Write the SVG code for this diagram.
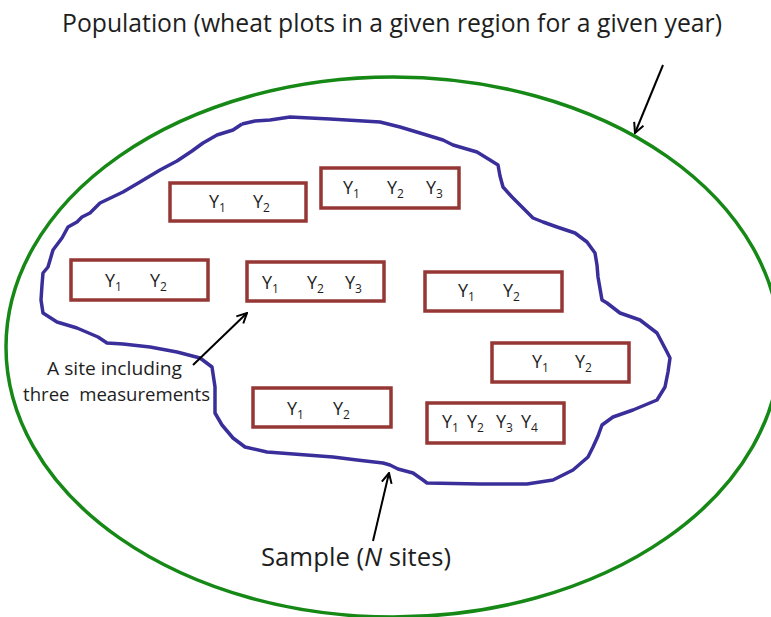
<svg xmlns="http://www.w3.org/2000/svg" width="771" height="617" viewBox="0 0 771 617">
<style>
text{font-family:"Open Sans","Noto Sans","Liberation Sans",sans-serif;fill:#1e1e1e}
.lbl{font-size:26px}
.note{font-size:19px}
.y{font-size:18px}
.sub{font-size:12px}
.box{fill:#fff;stroke:#953735;stroke-width:3.5}
.arrow{stroke:#000;stroke-width:2;fill:none}
</style>
<defs>
<marker id="ah" viewBox="0 0 12 12" refX="11" refY="6" markerWidth="12" markerHeight="12" markerUnits="userSpaceOnUse" orient="auto">
<path d="M1,1 L11,6 L1,11" fill="none" stroke="#000" stroke-width="2"/>
</marker>
</defs>
<rect width="771" height="617" fill="#fff"/>
<g id="population">
<ellipse cx="393" cy="347" rx="387" ry="270" fill="none" stroke="#168816" stroke-width="3.5"/>
<text class="lbl" x="62" y="32" textLength="660" lengthAdjust="spacingAndGlyphs">Population (wheat plots in a given region for a given year)</text>
</g>
<g id="sample">
<polyline fill="none" stroke="#3a2f9a" stroke-width="3.5" stroke-linejoin="round" points="242,124 255,121 270,120 290,117 330,119 380,122 400,127 420,133 443,140 453,145 477,152 490,160 498,165 500,176 503,187 512,197 523,208 533,218 543,222 557,227 575,233 587,242 595,253 597,265 598,277 602,300 607,303 620,313 640,320 657,333 667,352 670,358 668,372 665,387 657,400 633,410 613,417 602,425 598,436 593,447 588,457 573,470 553,480 527,484 480,484 427,483 423,480 413,473 398,469 390,465 383,463 357,460 333,457 267,452 245,447 233,438 222,425 215,413 215,387 212,367 200,358 177,352 150,347 123,344 107,343 98,337 77,328 57,322 43,313 41,300 42,285 43,273 48,267 53,250 62,238 68,227 77,222 82,217 90,213 100,203 123,192 140,182 160,170 177,161 192,151 203,143 217,135 233,130 242,124"/>
<text class="lbl" x="261" y="566" textLength="190" lengthAdjust="spacingAndGlyphs">Sample (<tspan font-style="italic">N</tspan> sites)</text>
</g>
<g id="site-1">
<rect class="box" x="170" y="183" width="136" height="38"/>
<text class="y" x="209" y="208">Y<tspan class="sub" dy="4">1</tspan></text>
<text class="y" x="253" y="208">Y<tspan class="sub" dy="4">2</tspan></text>
</g>
<g id="site-2">
<rect class="box" x="321" y="168" width="138" height="40"/>
<text class="y" x="343" y="194">Y<tspan class="sub" dy="4">1</tspan></text>
<text class="y" x="387" y="194">Y<tspan class="sub" dy="4">2</tspan></text>
<text class="y" x="426" y="194">Y<tspan class="sub" dy="4">3</tspan></text>
</g>
<g id="site-3">
<rect class="box" x="71" y="260" width="137" height="40"/>
<text class="y" x="105" y="287">Y<tspan class="sub" dy="4">1</tspan></text>
<text class="y" x="150" y="287">Y<tspan class="sub" dy="4">2</tspan></text>
</g>
<g id="site-4">
<rect class="box" x="247" y="262" width="137" height="39"/>
<text class="y" x="262" y="289">Y<tspan class="sub" dy="4">1</tspan></text>
<text class="y" x="307" y="289">Y<tspan class="sub" dy="4">2</tspan></text>
<text class="y" x="345" y="289">Y<tspan class="sub" dy="4">3</tspan></text>
</g>
<g id="site-5">
<rect class="box" x="425" y="272" width="137" height="39"/>
<text class="y" x="458" y="297">Y<tspan class="sub" dy="4">1</tspan></text>
<text class="y" x="503" y="297">Y<tspan class="sub" dy="4">2</tspan></text>
</g>
<g id="site-6">
<rect class="box" x="492" y="343" width="137" height="39"/>
<text class="y" x="532" y="368">Y<tspan class="sub" dy="4">1</tspan></text>
<text class="y" x="575" y="368">Y<tspan class="sub" dy="4">2</tspan></text>
</g>
<g id="site-7">
<rect class="box" x="427" y="403" width="137" height="40"/>
<text class="y" x="442" y="428">Y<tspan class="sub" dy="4">1</tspan></text>
<text class="y" x="467" y="428">Y<tspan class="sub" dy="4">2</tspan></text>
<text class="y" x="496" y="428">Y<tspan class="sub" dy="4">3</tspan></text>
<text class="y" x="521" y="428">Y<tspan class="sub" dy="4">4</tspan></text>
</g>
<g id="site-8">
<rect class="box" x="253" y="388" width="138" height="39"/>
<text class="y" x="287" y="415">Y<tspan class="sub" dy="4">1</tspan></text>
<text class="y" x="333" y="415">Y<tspan class="sub" dy="4">2</tspan></text>
</g>
<g id="site-note">
<text class="note" x="47" y="375" textLength="135" lengthAdjust="spacingAndGlyphs">A site including</text>
<text class="note" x="23" y="401" textLength="187" lengthAdjust="spacingAndGlyphs" style="white-space:pre">three  measurements</text>
</g>
<g id="connectors">
<line class="arrow" x1="663" y1="65" x2="635" y2="133" marker-end="url(#ah)"/>
<line class="arrow" x1="373" y1="541" x2="389" y2="473" marker-end="url(#ah)"/>
<line class="arrow" x1="193" y1="365" x2="247" y2="313" marker-end="url(#ah)"/>
</g>
</svg>
